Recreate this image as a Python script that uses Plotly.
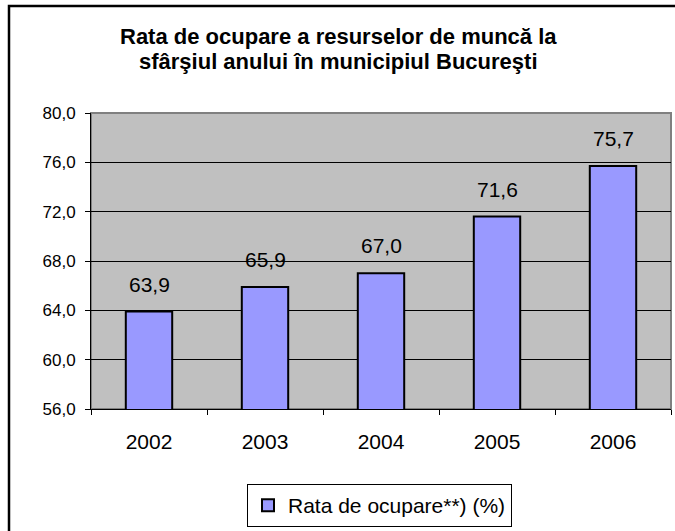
import plotly.graph_objects as go

years = ["2002", "2003", "2004", "2005", "2006"]
values = [63.9, 65.9, 67.0, 71.6, 75.7]
series_name = "Rata de ocupare**) (%)"
title_lines = ["Rata de ocupare a resurselor de muncă la", "sfârşiul anului în municipiul Bucureşti"]
y_ticks = [56, 60, 64, 68, 72, 76, 80]

FONT = "Liberation Sans, Arial, sans-serif"

L, T, R, B = 91, 113, 671, 409
PW, PH = R - L, B - T

def py(pix):
    return (B - pix) / PH

def px(pix):
    return (pix - L) / PW

xpos = list(range(len(years)))

fig = go.Figure()
fig.add_trace(go.Bar(
    x=xpos, y=values, name=series_name,
    marker=dict(color="#9999FF", line=dict(color="black", width=2)),
    width=0.4, showlegend=True,
))

for xi, v in zip(xpos, values):
    fig.add_annotation(x=xi, y=v, text=f"{v:.1f}".replace(".", ","),
                       showarrow=False, yanchor="bottom", yshift=14,
                       font=dict(size=21, color="black", family=FONT))

# title lines
for ypix, line in zip([37, 61], title_lines):
    fig.add_annotation(x=px(338), y=py(ypix), xref="paper", yref="paper",
                       text="<b>" + line + "</b>", showarrow=False,
                       yanchor="middle", xanchor="center",
                       font=dict(size=22, color="black", family=FONT))

# outer chart frame
fig.add_shape(type="rect", xref="paper", yref="paper",
              x0=px(9), x1=1.2, y0=-0.6, y1=py(6),
              line=dict(color="black", width=2.5), layer="below")

fig.update_layout(
    width=675, height=531,
    margin=dict(l=L, r=675 - R, t=T, b=531 - B),
    paper_bgcolor="white", plot_bgcolor="#C0C0C0",
    separators=",.",
    font=dict(family=FONT, size=16, color="black"),
    showlegend=True,
    legend=dict(orientation="h", x=px(247), y=py(484),
                xanchor="left", yanchor="top",
                bordercolor="black", borderwidth=1, bgcolor="white",
                font=dict(size=21, family=FONT)),
    xaxis=dict(range=[-0.5, len(years) - 0.5], tickvals=xpos, ticktext=years,
               showline=True, linecolor="black", linewidth=1,
               ticks="", tickfont=dict(size=21), ticklabelstandoff=14,
               automargin=False, showgrid=False, zeroline=False,
               minor=dict(tickvals=[i - 0.5 for i in range(len(years) + 1)],
                          ticks="outside", ticklen=5, tickcolor="black",
                          showgrid=False)),
    yaxis=dict(range=[56, 80], tickvals=y_ticks, tickformat=".1f",
               showline=True, linecolor="black", linewidth=1,
               ticks="outside", ticklen=5, tickcolor="black",
               tickfont=dict(size=17), ticklabelstandoff=6, automargin=False,
               showgrid=True, gridcolor="black", gridwidth=1, zeroline=False),
)

# plot area border (gray)
fig.add_shape(type="rect", xref="paper", yref="paper", x0=0, x1=1, y0=0, y1=1,
              line=dict(color="#808080", width=2), layer="below")

fig.write_html("out.html", config={"displayModeBar": False},
               post_script="document.body.style.margin='0';")
